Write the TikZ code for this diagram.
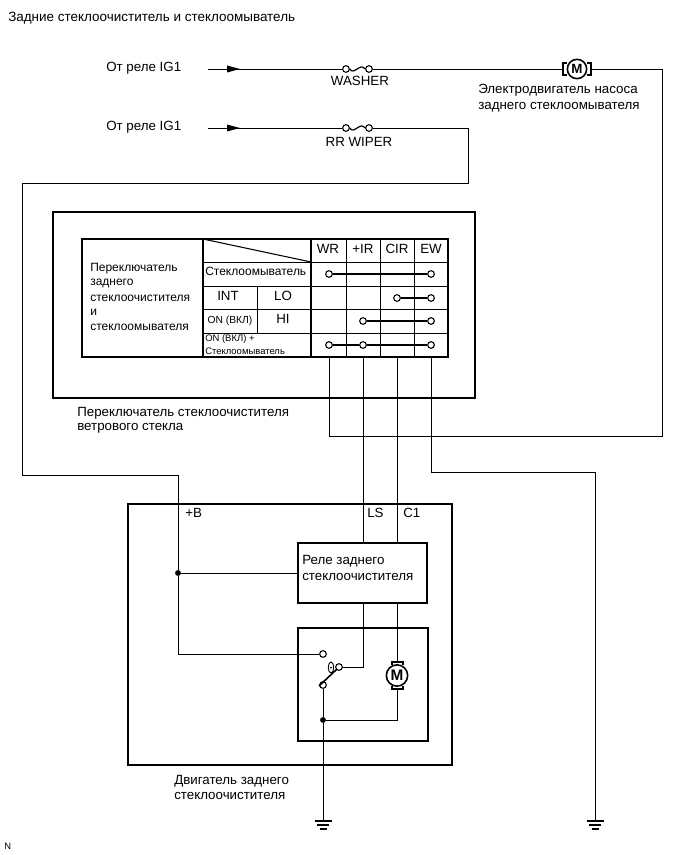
\documentclass[tikz,border=0pt]{standalone}
\usepackage{fontspec}
\setmainfont{Liberation Sans}
\usetikzlibrary{arrows.meta,calc}
\tikzset{
  wire/.style={line width=0.7pt,black},
  heavy/.style={line width=1.4pt,black},
  tline/.style={line width=0.6pt,black},
  contact/.style={circle,draw,line width=0.8pt,fill=white,inner sep=0pt,minimum size=5pt},
  dotnode/.style={circle,fill=black,inner sep=0pt,minimum size=4.4pt},
  lbl/.style={inner sep=0pt,anchor=west,font=\fontsize{10}{11}\selectfont},
  tlbl/.style={inner sep=0pt,anchor=west,font=\fontsize{9}{10}\selectfont},
  clbl/.style={inner sep=0pt,anchor=center,font=\fontsize{10}{11}\selectfont},
  small/.style={inner sep=0pt,anchor=west,font=\fontsize{7.1}{8}\selectfont},
  rotor/.style={circle,draw,line width=1.2pt,inner sep=0pt,minimum size=#1,font=\fontsize{10}{10}\selectfont\bfseries},
}
\begin{document}
\begin{tikzpicture}[x=0.75pt,y=-0.75pt]
\useasboundingbox (0,0) rectangle (690,855);
% named points
\coordinate (s1) at (208,69);
\coordinate (s2) at (208,128);
\coordinate (c1) at (662,69);
\coordinate (c2) at (662,436);
\coordinate (c3) at (329,436);
\coordinate (d1) at (468,128);
\coordinate (d2) at (468,183);
\coordinate (d3) at (22,183);
\coordinate (d4) at (22,475);
\coordinate (d5) at (178,475);
\coordinate (e1) at (431,472);
\coordinate (e2) at (595,472);
\coordinate (g1) at (323,821);
\coordinate (g2) at (595,821);
\coordinate (wrb) at (329,357);
\coordinate (irb) at (363,357);
\coordinate (cirb) at (397,357);
\coordinate (ewb) at (431,357);
\coordinate (lsa) at (363,543);
\coordinate (c1a) at (397,543);
\coordinate (lsb) at (363,603);
\coordinate (c1b) at (397,603);
\coordinate (ls2) at (363,667);
\coordinate (mc) at (397,720);
\coordinate (relw) at (298,573);
% boxes
\draw[heavy] (53,212) rectangle (475,398);
\draw[heavy] (128,504) rectangle (452,765);
\draw[heavy] (298,543) rectangle (427,603);
\draw[heavy] (298,628) rectangle (428,741);
% table
\draw[line width=0.8pt] (203,239) -- (311,262);
\foreach \x in {257} \draw[tline] (\x,286) -- (\x,333);
\foreach \x in {346,380,414} \draw[tline] (\x,239) -- (\x,357);
\foreach \y in {262,286,309.5,333} \draw[tline] (203,\y) -- (448,\y);
\draw[heavy] (203,239) -- (203,357);
\draw[heavy] (311,239) -- (311,357);
\draw[heavy] (82,239) rectangle (448,357);
% fuses and motor nodes
\node[contact] (f1a) at (346,69) {};
\node[contact] (f1b) at (369,69) {};
\node[contact] (f2a) at (346,128) {};
\node[contact] (f2b) at (369,128) {};
\node[rotor=14.5pt] (pm) at (577,69) {M};
\draw[line width=0.9pt] (f1a.east) .. controls (354,76) and (360,62) .. (f1b.west);
\draw[line width=0.9pt] (f2a.east) .. controls (354,135) and (360,121) .. (f2b.west);
% supply wires
\draw[wire] (s1) -- (f1a);
\draw[wire] (f1b) -- (562,69);
\draw[wire] (592,69) -- (c1) -- (c2) -- (c3) -- (wrb);
\draw[wire] (s2) -- (f2a);
\draw[wire] (f2b) -- (d1) -- (d2) -- (d3) -- (d4) -- (d5);
\fill (227,65.5) -- (240,69) -- (227,72.5) -- cycle;
\fill (227,124.5) -- (240,128) -- (227,131.5) -- cycle;
% pump motor brackets
\draw[line width=1.1pt] (567,63) -- (563,63) -- (563,75) -- (567,75);
\draw[line width=1.1pt] (587,63) -- (591,63) -- (591,75) -- (587,75);
% contacts
\foreach \n/\x/\y in {a/329/274,b/431/274,c/397/298,d/431/298,e/363/321,f/431/321,g/329/345,h/363/345,i/431/345}
  \node[contact] (k\n) at (\x,\y) {};
\draw[line width=0.8pt] (ka) -- (kb);
\draw[line width=0.8pt] (kc) -- (kd);
\draw[line width=0.8pt] (ke) -- (kf);
\draw[line width=0.8pt] (kg) -- (kh);
\draw[line width=0.8pt] (kh) -- (ki);
% wires to rear motor
\draw[wire] (irb) -- (lsa);
\draw[wire] (cirb) -- (c1a);
\draw[wire] (ewb) -- (e1) -- (e2) -- (g2);
\node[dotnode] (jb) at (178,573) {};
\node[contact] (sw1) at (323,654) {};
\node[contact] (sw2) at (339,667) {};
\node[contact] (sw3) at (323,685) {};
\node[dotnode] (jg) at (323,720) {};
\node[rotor=16pt] (rm) at (397,675.5) {\fontsize{11.5}{11.5}\selectfont M};
\draw[wire] (d5) -- (jb) -- (178,654) -- (sw1);
\draw[wire] (jb) -- (relw);
\draw[wire] (lsb) -- (ls2) -- (sw2);
\draw[wire] (c1b) -- (397,662);
\draw[wire] (397,689) -- (mc) -- (jg);
\draw[wire] (sw3) -- (jg) -- (g1);
% motor brushes
\draw[line width=1pt] (392,665) -- (392,662) -- (403,662) -- (403,665);
\draw[line width=1pt] (392,686) -- (392,689) -- (403,689) -- (403,686);
% switch arm
\draw[line width=1.2pt] (319,686) -- (337,669);
\draw[line width=0.7pt,fill=white] (331,667.5) ellipse [x radius=2.7,y radius=5.5];
\fill (331,667.5) circle [radius=1];
% grounds
\foreach \g in {g1,g2}{
  \draw[line width=1.3pt] ($(\g)+(-8.5,0)$) -- ($(\g)+(8.5,0)$);
  \draw[line width=0.8pt] ($(\g)+(-6,4)$) -- ($(\g)+(6,4)$);
  \draw[line width=0.8pt] ($(\g)+(-3.5,8)$) -- ($(\g)+(3.5,8)$);
}
% text
\node[lbl,font=\fontsize{10.1}{11}\selectfont] (t0) at (8,18) {Задние стеклоочиститель и стеклоомыватель};
\node[lbl] (t1) at (106,68) {От реле IG1};
\node[lbl] (t2) at (106,127) {От реле IG1};
\node[clbl] (t3) at (360,81) {WASHER};
\node[clbl] (t4) at (359,141.5) {RR WIPER};
\node[lbl] (t5) at (478,90.5) {Электродвигатель насоса};
\node[lbl] (t6) at (478,107) {заднего стеклоомывателя};
\node[tlbl] (t7) at (90,268.5) {Переключатель};
\node[tlbl] (t8) at (90,283) {заднего};
\node[tlbl] (t9) at (90,298) {стеклоочистителя};
\node[tlbl] (t10) at (90,312) {и};
\node[tlbl] (t11) at (90,327) {стеклоомывателя};
\node[clbl] (h1) at (328,249) {WR};
\node[clbl] (h2) at (363,249) {+IR};
\node[clbl] (h3) at (397,249) {CIR};
\node[clbl] (h4) at (431,249) {EW};
\node[tlbl] (r1) at (205,271.5) {Стеклоомыватель};
\node[clbl] (r2) at (228,296) {INT};
\node[clbl] (r3) at (283,296) {LO};
\node[clbl,font=\fontsize{7.7}{9}\selectfont] (r4) at (230,320.5) {ON (ВКЛ)};
\node[clbl] (r5) at (283,319) {HI};
\node[small] (r6) at (205,339) {ON (ВКЛ) +};
\node[small] (r7) at (205,351) {Стеклоомыватель};
\node[lbl] (t12) at (77,413) {Переключатель стеклоочистителя};
\node[lbl] (t13) at (77,428) {ветрового стекла};
\node[lbl] (t14) at (185,513) {+B};
\node[lbl] (t15) at (367,513) {LS};
\node[lbl] (t16) at (403,513) {C1};
\node[lbl] (t17) at (302,561) {Реле заднего};
\node[lbl] (t18) at (302,577) {стеклоочистителя};
\node[lbl] (t19) at (174,781) {Двигатель заднего};
\node[lbl] (t20) at (174,796) {стеклоочистителя};
\node[lbl,font=\fontsize{7}{8}\selectfont] (t21) at (4,846) {N};
\end{tikzpicture}
\end{document}
